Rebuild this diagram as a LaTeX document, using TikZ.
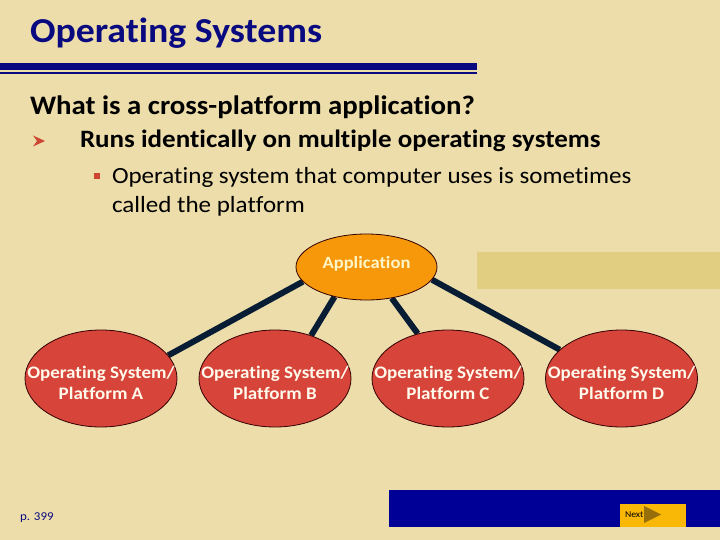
\documentclass[tikz,border=0pt]{standalone}
\usepackage{fontspec}
\setmainfont{Carlito}[Ligatures=NoCommon,FakeStretch=1.08]
\usetikzlibrary{shapes.geometric}
\pgfdeclarelayer{back}
\pgfdeclarelayer{lines}
\pgfsetlayers{back,lines,main}
\definecolor{bg}{RGB}{236,221,170}
\definecolor{navy}{RGB}{10,10,128}
\definecolor{barnavy}{RGB}{0,0,150}
\definecolor{appor}{RGB}{246,152,10}
\definecolor{osred}{RGB}{214,68,58}
\definecolor{linec}{RGB}{8,28,52}
\definecolor{rectc}{RGB}{226,206,128}
\definecolor{btn}{RGB}{250,184,6}
\definecolor{btnarrow}{RGB}{150,110,10}
\definecolor{bulletred}{RGB}{205,70,50}
\definecolor{apptext}{RGB}{255,246,200}
\definecolor{ostext}{RGB}{255,250,235}
\begin{document}
\begin{tikzpicture}[x=1pt,y=-1pt,
  txt/.style={anchor=base west,inner sep=0pt,outer sep=0pt},
  osnode/.style={ellipse,draw=black!80!red,line width=0.8pt,fill=osred,minimum width=152pt,minimum height=97pt,inner sep=0pt},
  ostext/.style={text=ostext,font=\bfseries\fontsize{17.6}{21.5}\selectfont,align=center,inner sep=0pt},
  appnode/.style={ellipse,draw=black!80!red,line width=0.8pt,fill=appor,minimum width=141pt,minimum height=66pt,inner sep=0pt},
  apptext/.style={text=apptext,font=\bfseries\fontsize{17.2}{20}\selectfont,inner sep=0pt},
  conn/.style={draw=linec,line width=6pt}]
\begin{pgfonlayer}{back}
\fill[bg] (0,0) rectangle (720,540);
\end{pgfonlayer}
\useasboundingbox (0,0) rectangle (720,540);
% title
\node[txt,text=navy,font=\bfseries\fontsize{35}{40}\selectfont] (title) at (30,43) {Operating Systems};
\fill[navy] (0,63) rectangle (477,70.5);
\fill[navy] (0,72.5) rectangle (477,74);
% text
\node[txt,font=\bfseries\fontsize{26.7}{30}\selectfont] (q) at (30,115) {What is a cross-platform application?};
\fill[bulletred] (33,135.5) -- (45,141) -- (33,146.5) -- (37,141) -- cycle;
\node[txt,font=\bfseries\fontsize{25}{30}\selectfont] (l1) at (80,148) {Runs identically on multiple operating systems};
\fill[bulletred] (94,173) rectangle (100,179);
\node[txt,font=\fontsize{23.2}{28}\selectfont] (l2) at (112,184) {Operating system that computer uses is sometimes};
\node[txt,font=\fontsize{23.2}{28}\selectfont] (l3) at (112,213) {called the platform};
% rectangle
\fill[rectc] (477,252) rectangle (720,289);
% nodes
\node[appnode] (app) at (366.5,267) {};
\node[apptext] (appt) at (366.5,264) {Application};
\node[osnode] (A) at (101,378.5) {};
\node[osnode] (B) at (275,378.5) {};
\node[osnode] (C) at (448,378.5) {};
\node[osnode] (D) at (621.5,378.5) {};
\node[ostext] (At) at (101,383) {Operating System/\\Platform A};
\node[ostext] (Bt) at (275,383) {Operating System/\\Platform B};
\node[ostext] (Ct) at (448,383) {Operating System/\\Platform C};
\node[ostext] (Dt) at (621.5,383) {Operating System/\\Platform D};
\begin{pgfonlayer}{lines}
\draw[conn] (app.193) -- (A.19);
\draw[conn] (app.223) -- (B.50);
\draw[conn] (app.309) -- (C.124);
\draw[conn] (app.349) -- (D.155);
\end{pgfonlayer}
% footer
\node[txt,text=navy,font=\fontsize{12}{14}\selectfont] (pg) at (20,520) {p. 399};
\fill[barnavy] (389,490) rectangle (720,527);
\fill[btn] (620,504) rectangle (686,527);
\fill[btnarrow] (644,506) -- (661,514.5) -- (644,523) -- cycle;
\node[txt,font=\fontsize{9}{10}\selectfont] (next) at (625,517) {Next};
\end{tikzpicture}
\end{document}
